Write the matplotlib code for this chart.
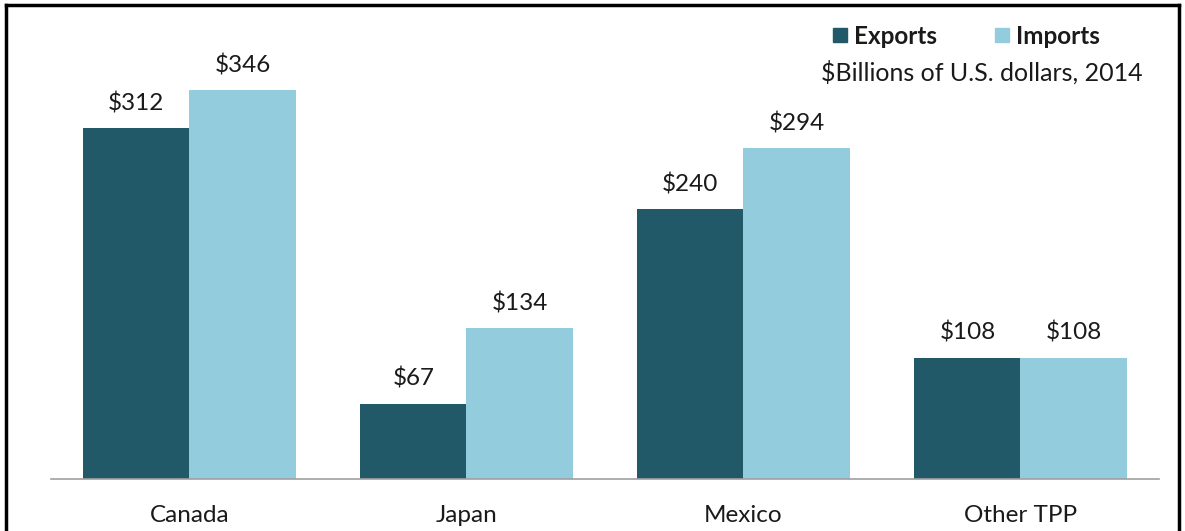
import matplotlib.pyplot as plt
import numpy as np
from matplotlib.lines import Line2D
from matplotlib.patches import Patch

# Trade with TPP partners, billions of U.S. dollars, 2014
countries = ["Canada", "Japan", "Mexico", "Other TPP"]
exports = [312, 67, 240, 108]
imports = [346, 134, 294, 108]

export_color = "#215968"
import_color = "#93CDDD"
text_color = "#1a1a1a"

plt.rcParams['font.family'] = ['Lato', 'DejaVu Sans']

fig = plt.figure(figsize=(11.85, 5.31), dpi=100)
ax = fig.add_axes([0.043, 0.098, 0.935, 0.847])

x = np.arange(len(countries))
width = 0.383

b1 = ax.bar(x - width / 2, exports, width, color=export_color, label="Exports")
b2 = ax.bar(x + width / 2, imports, width, color=import_color, label="Imports")

# dollar labels above each bar
ax.bar_label(b1, labels=[f"${v}" for v in exports], padding=10, fontsize=17.5, color=text_color)
ax.bar_label(b2, labels=[f"${v}" for v in imports], padding=10, fontsize=17.5, color=text_color)

ax.set_xlim(-0.5, 3.5)
ax.set_ylim(0, 400)
ax.set_xticks(x)
ax.set_xticklabels(countries, fontsize=17.5, color=text_color)
ax.tick_params(axis="x", length=0, pad=19)
ax.set_yticks([])

for side in ["left", "right", "top"]:
    ax.spines[side].set_visible(False)
ax.spines["bottom"].set_color("#a0a0a0")
ax.spines["bottom"].set_linewidth(1.2)

# legend in the top right corner
handles = [Patch(color=export_color), Patch(color=import_color)]
leg = fig.legend(handles, ["Exports", "Imports"], loc="center left",
                 bbox_to_anchor=(0.689, 0.932), ncol=2, frameon=False,
                 handlelength=0.55, handleheight=0.55, handletextpad=0.3,
                 columnspacing=2.4, borderpad=0.2,
                 prop={"size": 17.5, "weight": "bold"})
for t in leg.get_texts():
    t.set_color(text_color)

fig.text(0.964, 0.864, "$Billions of U.S. dollars, 2014", ha="right", va="center",
         fontsize=18, color=text_color)

# black frame around the chart (left, top, right)
frame_kw = dict(color="black", linewidth=2.5, transform=fig.transFigure)
fig.add_artist(Line2D([0.005, 0.005], [0.0, 0.99], **frame_kw))
fig.add_artist(Line2D([0.005, 0.995], [0.99, 0.99], **frame_kw))
fig.add_artist(Line2D([0.995, 0.995], [0.0, 0.99], **frame_kw))

fig.savefig("out.png", dpi=100)
